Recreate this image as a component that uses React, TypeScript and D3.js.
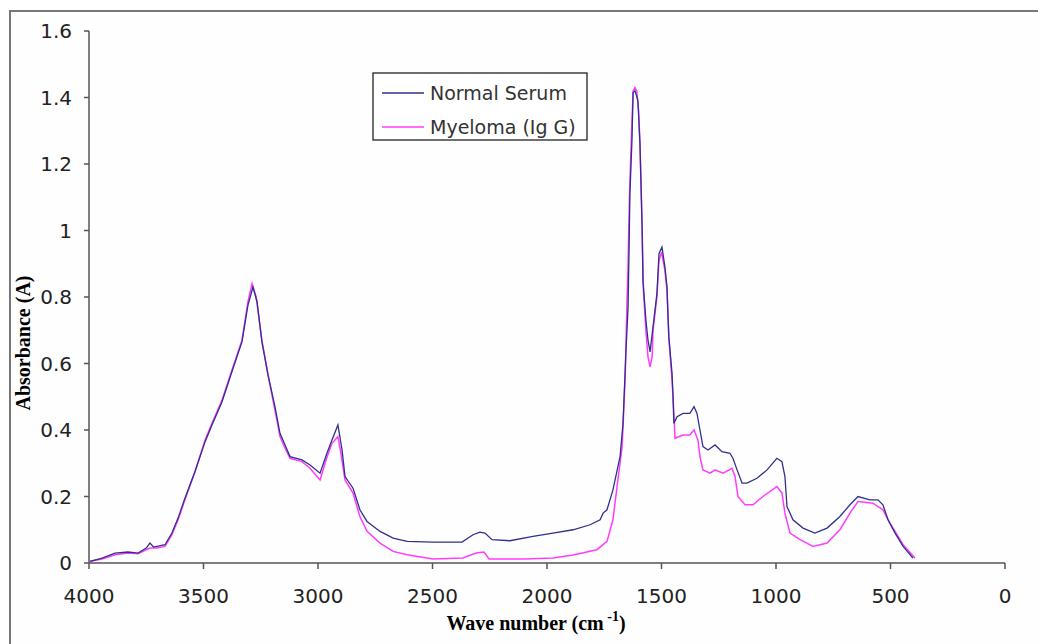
import React from "react"
import * as d3 from "d3"

// Normal serum spectrum (wavenumber, absorbance)
const waveNormal = [3995, 3943, 3886, 3830, 3786, 3750, 3734, 3718, 3703, 3668, 3638, 3611, 3581, 3537, 3493, 3463, 3419, 3376, 3332, 3306, 3284, 3266, 3245, 3218, 3188, 3166, 3144, 3122, 3070, 3035, 2991, 2961, 2939, 2913, 2895, 2882, 2847, 2817, 2786, 2729, 2672, 2611, 2500, 2371, 2323, 2293, 2271, 2240, 2162, 2061, 1974, 1886, 1812, 1768, 1755, 1738, 1712, 1681, 1668, 1664, 1655, 1646, 1642, 1638, 1629, 1624, 1616, 1611, 1603, 1594, 1585, 1581, 1568, 1559, 1550, 1537, 1520, 1511, 1498, 1485, 1476, 1472, 1468, 1454, 1450, 1446, 1432, 1406, 1376, 1358, 1345, 1332, 1319, 1297, 1266, 1236, 1201, 1188, 1170, 1148, 1127, 1083, 1039, 996, 974, 961, 952, 926, 882, 830, 777, 721, 677, 642, 590, 555, 533, 511, 480, 445, 402]
const absNormal = [0.005, 0.015, 0.03, 0.033, 0.03, 0.045, 0.06, 0.048, 0.05, 0.055, 0.09, 0.135, 0.195, 0.275, 0.365, 0.415, 0.485, 0.575, 0.665, 0.775, 0.83, 0.785, 0.665, 0.565, 0.47, 0.39, 0.355, 0.32, 0.31, 0.295, 0.27, 0.33, 0.37, 0.415, 0.34, 0.26, 0.225, 0.16, 0.125, 0.095, 0.075, 0.065, 0.063, 0.063, 0.085, 0.093, 0.09, 0.07, 0.067, 0.08, 0.09, 0.1, 0.115, 0.13, 0.15, 0.16, 0.22, 0.32, 0.42, 0.49, 0.64, 0.77, 0.93, 1.11, 1.27, 1.415, 1.42, 1.41, 1.39, 1.26, 1.02, 0.85, 0.73, 0.67, 0.635, 0.71, 0.81, 0.93, 0.95, 0.89, 0.83, 0.75, 0.68, 0.57, 0.51, 0.42, 0.44, 0.45, 0.45, 0.47, 0.45, 0.4, 0.35, 0.34, 0.355, 0.335, 0.33, 0.315, 0.28, 0.24, 0.24, 0.255, 0.28, 0.315, 0.305, 0.26, 0.17, 0.13, 0.105, 0.09, 0.105, 0.14, 0.175, 0.2, 0.19, 0.19, 0.175, 0.13, 0.09, 0.05, 0.015]

// Myeloma (IgG) spectrum
const waveMyeloma = [3995, 3943, 3886, 3830, 3786, 3734, 3703, 3668, 3638, 3611, 3581, 3537, 3493, 3463, 3419, 3376, 3332, 3306, 3288, 3270, 3245, 3218, 3188, 3166, 3144, 3122, 3070, 3035, 2991, 2965, 2939, 2913, 2900, 2882, 2847, 2817, 2786, 2729, 2672, 2611, 2498, 2367, 2310, 2275, 2253, 2097, 1974, 1886, 1782, 1738, 1712, 1694, 1672, 1659, 1652, 1646, 1640, 1632, 1624, 1616, 1608, 1600, 1594, 1585, 1579, 1568, 1559, 1550, 1541, 1537, 1520, 1511, 1500, 1485, 1476, 1468, 1454, 1446, 1441, 1406, 1376, 1358, 1341, 1332, 1319, 1288, 1266, 1231, 1192, 1179, 1166, 1135, 1100, 1057, 996, 974, 961, 939, 895, 838, 777, 721, 677, 642, 577, 533, 502, 445, 393]
const absMyeloma = [0.005, 0.012, 0.025, 0.03, 0.028, 0.045, 0.045, 0.05, 0.085, 0.13, 0.19, 0.275, 0.37, 0.42, 0.49, 0.58, 0.67, 0.785, 0.84, 0.8, 0.67, 0.565, 0.46, 0.38, 0.345, 0.315, 0.305, 0.285, 0.25, 0.31, 0.36, 0.38, 0.33, 0.25, 0.21, 0.14, 0.095, 0.06, 0.035, 0.025, 0.012, 0.015, 0.03, 0.033, 0.012, 0.012, 0.015, 0.024, 0.04, 0.065, 0.13, 0.23, 0.35, 0.55, 0.75, 0.9, 1.1, 1.27, 1.42, 1.43, 1.42, 1.36, 1.26, 1.02, 0.82, 0.7, 0.62, 0.59, 0.62, 0.7, 0.8, 0.91, 0.935, 0.88, 0.82, 0.68, 0.55, 0.45, 0.375, 0.385, 0.385, 0.4, 0.37, 0.32, 0.28, 0.27, 0.28, 0.27, 0.285, 0.26, 0.2, 0.175, 0.175, 0.2, 0.23, 0.21, 0.15, 0.09, 0.07, 0.05, 0.06, 0.1, 0.15, 0.185, 0.18, 0.16, 0.12, 0.055, 0.015]

const xTicks = [4000, 3500, 3000, 2500, 2000, 1500, 1000, 500, 0]
const yTicks = [0, 0.2, 0.4, 0.6, 0.8, 1, 1.2, 1.4, 1.6]

const seriesNames = ["Normal Serum", "Myeloma (Ig G)"]
const seriesColors = ["#30308c", "#ff3cff"]

export default function App() {
  const x = d3.scaleLinear().domain([4000, 0]).range([89, 1005])
  const y = d3.scaleLinear().domain([0, 1.6]).range([563, 31])

  const line = d3.line<[number, number]>()
    .x(d => x(d[0]))
    .y(d => y(d[1]))

  const normal = waveNormal.map((w, i) => [w, absNormal[i]] as [number, number])
  const myeloma = waveMyeloma.map((w, i) => [w, absMyeloma[i]] as [number, number])

  const tickFont = "'DejaVu Sans', Verdana, sans-serif"
  const axisColor = "#555"

  return (
    <svg width={1038} height={644} style={{ position: "absolute", left: 0, top: 0, background: "#fff" }}>
      {/* outer frame */}
      <rect x={10} y={11} width={1080} height={700} fill="#fefefe" stroke="#777" strokeWidth={2} />

      {/* y axis */}
      <line x1={89} x2={89} y1={y(1.6)} y2={y(0)} stroke={axisColor} strokeWidth={1.5} />
      {yTicks.map(t => (
        <g key={"y" + t}>
          <line x1={84} x2={89} y1={y(t)} y2={y(t)} stroke={axisColor} strokeWidth={1.5} />
          <text x={72} y={y(t)} dy="0.36em" textAnchor="end" fontFamily={tickFont} fontSize={20} fill="#222">
            {String(+t.toFixed(1))}
          </text>
        </g>
      ))}

      {/* x axis */}
      <line x1={x(4000)} x2={x(0)} y1={563} y2={563} stroke={axisColor} strokeWidth={1.5} />
      {xTicks.map(t => (
        <g key={"x" + t}>
          <line x1={x(t)} x2={x(t)} y1={563} y2={569} stroke={axisColor} strokeWidth={1.5} />
          <text x={x(t)} y={603} textAnchor="middle" fontFamily={tickFont} fontSize={20} fill="#222">
            {t}
          </text>
        </g>
      ))}

      {/* series */}
      <path d={line(myeloma) || ""} fill="none" stroke={seriesColors[1]} strokeWidth={1.5} />
      <path d={line(normal) || ""} fill="none" stroke={seriesColors[0]} strokeWidth={1.3} />

      {/* axis titles */}
      <text x={536} y={630} textAnchor="middle" fontFamily="'Liberation Serif', 'Times New Roman', serif" fontWeight="bold" fontSize={20} fill="#000">
        Wave number (cm<tspan fontSize={14} dy={-9}> -1</tspan><tspan dy={9}>)</tspan>
      </text>
      <text transform="translate(30,343) rotate(-90)" textAnchor="middle" fontFamily="'Liberation Serif', 'Times New Roman', serif" fontWeight="bold" fontSize={20} fill="#000">
        Absorbance (A)
      </text>

      {/* legend */}
      <rect x={373} y={73} width={214} height={67} fill="#fff" stroke="#222" strokeWidth={1.3} />
      {seriesNames.map((n, i) => (
        <g key={n}>
          <line x1={382} x2={424} y1={93 + i * 34} y2={93 + i * 34} stroke={seriesColors[i]} strokeWidth={1.5} />
          <text x={430} y={93 + i * 34} dy="0.36em" fontFamily={tickFont} fontSize={19} fill="#333">
            {n}
          </text>
        </g>
      ))}
    </svg>
  )
}
